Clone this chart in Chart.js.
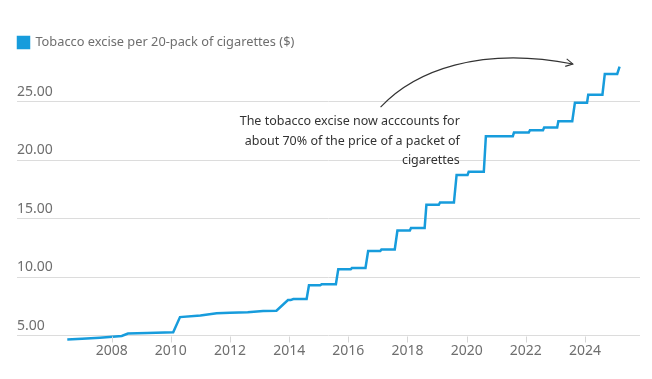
<!DOCTYPE html>
<html>
<head>
<meta charset="utf-8">
<script src="https://cdn.jsdelivr.net/npm/chart.js@4"></script>
<style>
  html, body { margin: 0; padding: 0; background: #fff; }
  #wrap { width: 652px; height: 379px; position: relative; }
</style>
</head>
<body>
<div id="wrap"><canvas id="exciseChart"></canvas></div>
<script>
// Excise per 20-pack (AUD)
const years = [2006.5, 2007.0, 2007.6, 2008.34, 2008.55, 2009.2, 2010.08, 2010.31, 2011.0, 2011.55, 2012.0, 2012.6, 2013.12, 2013.57,
  2013.96, 2014.05, 2014.14, 2014.59, 2014.67, 2015.05, 2015.1, 2015.58, 2015.66, 2016.08, 2016.12, 2016.58, 2016.67,
  2017.08, 2017.12, 2017.57, 2017.66, 2018.08, 2018.12, 2018.58, 2018.64, 2019.06, 2019.1, 2019.57, 2019.66, 2020.03, 2020.07,
  2020.58, 2020.65, 2021.56, 2021.6, 2022.1, 2022.14, 2022.58, 2022.62, 2023.06, 2023.1, 2023.57, 2023.66, 2024.07, 2024.11,
  2024.59, 2024.67, 2025.09, 2025.17];
const excise = [4.66, 4.72, 4.82, 4.97, 5.17, 5.22, 5.29, 6.58, 6.72, 6.90, 6.95, 7.00, 7.10, 7.12,
  8.03, 8.03, 8.12, 8.12, 9.30, 9.30, 9.39, 9.39, 10.66, 10.66, 10.77, 10.77, 12.22,
  12.22, 12.36, 12.36, 13.97, 13.97, 14.20, 14.20, 16.18, 16.18, 16.37, 16.37, 18.73, 18.73, 19.00,
  19.00, 22.04, 22.04, 22.35, 22.35, 22.55, 22.55, 22.78, 22.78, 23.31, 23.31, 24.90, 24.90, 25.58,
  25.58, 27.36, 27.36, 27.98];

const xTicks = [2008, 2010, 2012, 2014, 2016, 2018, 2020, 2022, 2024];
const yTicks = [5, 10, 15, 20, 25];

const noteLines = ['The tobacco excise now acccounts for', 'about 70% of the price of a packet of', 'cigarettes'];

const BLUE = '#179cdc';
const GREY = '#6e6e6e';

// annotation text + curved arrow, and the little x tick marks
const notePlugin = {
  id: 'note',
  afterDatasetsDraw(chart) {
    const { ctx, scales: { x, y } } = chart;
    ctx.save();

    ctx.strokeStyle = '#d6d6d6';
    ctx.lineWidth = 1;
    const base = Math.round(y.getPixelForValue(yTicks[0])) + 0.5;
    xTicks.forEach(t => {
      const px = Math.round(x.getPixelForValue(t)) + 0.5;
      ctx.beginPath();
      ctx.moveTo(px, base);
      ctx.lineTo(px, base + 6);
      ctx.stroke();
    });

    ctx.fillStyle = '#333';
    ctx.font = '12.5px "Noto Sans"';
    ctx.textAlign = 'right';
    ctx.textBaseline = 'alphabetic';
    const tx = x.getPixelForValue(2019.77);
    const ty = y.getPixelForValue(22.96);   // baseline of first line
    noteLines.forEach((l, i) => ctx.fillText(l, tx, ty + i * 19.3));

    const p = (a, b) => [x.getPixelForValue(a), y.getPixelForValue(b)];
    const s = p(2017.09, 24.52), c1 = p(2018.25, 27.63), c2 = p(2020.45, 29.75), e = p(2023.59, 28.21);
    ctx.strokeStyle = '#333';
    ctx.lineWidth = 1.1;
    ctx.beginPath();
    ctx.moveTo(s[0], s[1]);
    ctx.bezierCurveTo(c1[0], c1[1], c2[0], c2[1], e[0], e[1]);
    ctx.stroke();
    const ang = Math.atan2(e[1] - c2[1], e[0] - c2[0]);
    ctx.beginPath();
    ctx.moveTo(e[0] - 8 * Math.cos(ang - 0.5), e[1] - 8 * Math.sin(ang - 0.5));
    ctx.lineTo(e[0], e[1]);
    ctx.lineTo(e[0] - 8 * Math.cos(ang + 0.5), e[1] - 8 * Math.sin(ang + 0.5));
    ctx.stroke();
    ctx.restore();
  }
};

new Chart(document.getElementById('exciseChart'), {
  type: 'line',
  data: {
    datasets: [{
      label: 'Tobacco excise per 20-pack of cigarettes ($)',
      data: years.map((yr, i) => ({ x: yr, y: excise[i] })),
      borderColor: BLUE,
      backgroundColor: BLUE,
      borderWidth: 2.5,
      pointRadius: 0,
      tension: 0
    }]
  },
  options: {
    responsive: true,
    maintainAspectRatio: false,
    animation: false,
    layout: { padding: { left: 8, right: 12, top: 26, bottom: 19.6 } },
    plugins: {
      legend: {
        align: 'start',
        labels: {
          boxWidth: 11, boxHeight: 11, padding: 10,
          color: GREY,
          font: { family: 'Noto Sans', size: 12.8 }
        }
      },
      tooltip: { enabled: false }
    },
    scales: {
      x: {
        type: 'linear',
        min: 2004.8, max: 2025.86,
        afterBuildTicks: s => { s.ticks = xTicks.map(v => ({ value: v })); },
        grid: { display: false, drawTicks: false },
        border: { display: false },
        ticks: {
          color: GREY, padding: 0,
          font: { family: 'Noto Sans', size: 14 },
          callback: v => String(v)
        }
      },
      y: {
        min: 4.4, max: 28.65,
        afterBuildTicks: s => { s.ticks = yTicks.map(v => ({ value: v })); },
        afterFit: s => { s.width = 9; },
        grid: { color: '#dcdcdc', drawTicks: false },
        border: { display: false },
        ticks: {
          mirror: true, padding: 0, labelOffset: -10,
          color: GREY,
          font: { family: 'Noto Sans', size: 14 },
          callback: v => v.toFixed(2)
        }
      }
    }
  },
  plugins: [notePlugin]
});
</script>
</body>
</html>
